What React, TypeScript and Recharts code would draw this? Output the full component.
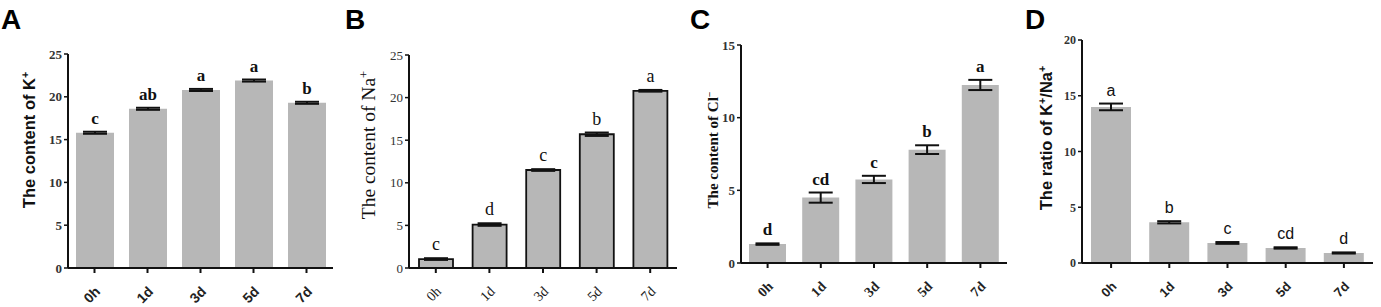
import React from "react";
import { BarChart, Bar, XAxis, YAxis, ErrorBar, LabelList } from "recharts";

const times = ["0h", "1d", "3d", "5d", "7d"];

const kContent = [15.8, 18.6, 20.8, 21.9, 19.3];
const kErr = [0.12, 0.12, 0.12, 0.12, 0.12];
const kLetters = ["c", "ab", "a", "a", "b"];

const naContent = [1.05, 5.1, 11.5, 15.7, 20.8];
const naErr = [0.1, 0.15, 0.1, 0.2, 0.1];
const naLetters = ["c", "d", "c", "b", "a"];

const clContent = [1.3, 4.5, 5.75, 7.8, 12.25];
const clErr = [0.05, 0.35, 0.25, 0.3, 0.35];
const clLetters = ["d", "cd", "c", "b", "a"];

const ratio = [14.0, 3.65, 1.8, 1.35, 0.9];
const ratioErr = [0.3, 0.1, 0.08, 0.06, 0.05];
const ratioLetters = ["a", "b", "c", "cd", "d"];

const ticks25 = [0, 5, 10, 15, 20, 25];
const ticks15 = [0, 5, 10, 15];
const ticks20 = [0, 5, 10, 15, 20];

const SANS = "'Liberation Sans', Arial, sans-serif";
const SERIF = "'Liberation Serif', 'Times New Roman', serif";

type Font = { family: string; weight: number; size: number };

type PanelProps = {
  tag: string;
  left: number;
  width: number;
  plotLeft: number;
  plotRight: number;
  plotTop: number;
  plotBottom: number;
  max: number;
  ticks: number[];
  values: number[];
  errors: number[];
  letters: string[];
  label: React.ReactNode;
  labelX: number;
  labelY: number;
  labelFont: Font;
  letterFont: Font;
  tickFont: Font;
  xTickFont: Font;
  barStroke?: string;
  barSize: number;
};

function Panel(p: PanelProps) {
  const data = times.map((t, i) => ({ time: t, value: p.values[i], err: p.errors[i], letter: p.letters[i] }));
  const H = 307;

  const renderLetter = (props: any) => {
    const { x, y, width, height, index } = props;
    const d = data[index];
    if (!d) return null;
    const pxPerUnit = height / d.value;
    const top = y - d.err * pxPerUnit;
    return (
      <text
        x={x + width / 2}
        y={top - 8}
        textAnchor="middle"
        fontFamily={p.letterFont.family}
        fontWeight={p.letterFont.weight}
        fontSize={p.letterFont.size}
        fill="#111"
      >
        {d.letter}
      </text>
    );
  };

  const XTick = (props: any) => {
    const { x, y, payload } = props;
    return (
      <g transform={`translate(${x + 3},${y + 14}) rotate(-45)`}>
        <text
          x={0}
          y={0}
          textAnchor="end"
          dominantBaseline="central"
          fontFamily={p.xTickFont.family}
          fontWeight={p.xTickFont.weight}
          fontSize={p.xTickFont.size}
          fill="#222"
        >
          {payload.value}
        </text>
      </g>
    );
  };

  return (
    <div style={{ position: "absolute", left: p.left, top: 0, width: p.width, height: H }}>
      <BarChart
        width={p.width}
        height={H}
        data={data}
        margin={{ top: p.plotTop, right: p.width - p.plotRight, bottom: 0, left: 0 }}
      >
        <XAxis
          dataKey="time"
          height={H - p.plotBottom}
          stroke="#111"
          strokeWidth={2}
          tickSize={5}
          tickLine={{ stroke: "#111", strokeWidth: 2 }}
          tick={<XTick />}
          interval={0}
        />
        <YAxis
          width={p.plotLeft}
          domain={[0, p.max]}
          ticks={p.ticks}
          allowDataOverflow
          stroke="#111"
          strokeWidth={2}
          tickSize={4}
          tickLine={{ stroke: "#111", strokeWidth: 1.5 }}
          tick={{
            fontFamily: p.tickFont.family,
            fontWeight: p.tickFont.weight,
            fontSize: p.tickFont.size,
            fill: "#333",
          }}
        />
        <Bar
          dataKey="value"
          fill="#b7b7b7"
          stroke={p.barStroke ?? "none"}
          strokeWidth={p.barStroke ? 1.8 : 0}
          barSize={p.barSize}
          isAnimationActive={false}
        >
          <ErrorBar dataKey="err" width={12} stroke="#111" strokeWidth={2} direction="y" />
          <LabelList dataKey="letter" content={renderLetter} />
        </Bar>
      </BarChart>
      <svg
        width={p.width}
        height={H}
        style={{ position: "absolute", left: 0, top: 0, pointerEvents: "none" }}
      >
        <text x={p.tag === "A" ? 1 : 0} y={29} fontFamily={SANS} fontWeight={700} fontSize={28} fill="#000">
          {p.tag}
        </text>
        <text
          transform={`translate(${p.labelX},${p.labelY}) rotate(-90)`}
          textAnchor="middle"
          fontFamily={p.labelFont.family}
          fontWeight={p.labelFont.weight}
          fontSize={p.labelFont.size}
          fill="#111"
        >
          {p.label}
        </text>
      </svg>
    </div>
  );
}

const sup = (s: string) => (
  <tspan baselineShift="super" fontSize="65%">
    {s}
  </tspan>
);

export default function App() {
  return (
    <div style={{ position: "absolute", left: 0, top: 0, width: 1381, height: 307, background: "#fff" }}>
      <Panel
        tag="A"
        left={0}
        width={345}
        plotLeft={68}
        plotRight={333}
        plotTop={54}
        plotBottom={268}
        max={25}
        ticks={ticks25}
        values={kContent}
        errors={kErr}
        letters={kLetters}
        label={<>The content of K{sup("+")}</>}
        labelX={35}
        labelY={140}
        labelFont={{ family: SANS, weight: 700, size: 16.5 }}
        letterFont={{ family: SERIF, weight: 700, size: 17 }}
        tickFont={{ family: SERIF, weight: 700, size: 13 }}
        xTickFont={{ family: SANS, weight: 700, size: 14 }}
        barSize={38}
      />
      <Panel
        tag="B"
        left={345}
        width={345}
        plotLeft={64}
        plotRight={332}
        plotTop={55}
        plotBottom={268}
        max={25}
        ticks={ticks25}
        values={naContent}
        errors={naErr}
        letters={naLetters}
        label={<>The content of Na{sup("+")}</>}
        labelX={30}
        labelY={145}
        labelFont={{ family: SERIF, weight: 400, size: 19.5 }}
        letterFont={{ family: SERIF, weight: 400, size: 18 }}
        tickFont={{ family: SERIF, weight: 400, size: 13 }}
        xTickFont={{ family: SERIF, weight: 400, size: 14 }}
        barStroke="#111"
        barSize={34}
      />
      <Panel
        tag="C"
        left={690}
        width={335}
        plotLeft={51}
        plotRight={317}
        plotTop={45}
        plotBottom={263}
        max={15}
        ticks={ticks15}
        values={clContent}
        errors={clErr}
        letters={clLetters}
        label={<>The content of Cl{sup("−")}</>}
        labelX={28}
        labelY={150}
        labelFont={{ family: SERIF, weight: 700, size: 15 }}
        letterFont={{ family: SERIF, weight: 700, size: 17 }}
        tickFont={{ family: SERIF, weight: 700, size: 13 }}
        xTickFont={{ family: SERIF, weight: 700, size: 14 }}
        barSize={37}
      />
      <Panel
        tag="D"
        left={1025}
        width={356}
        plotLeft={57}
        plotRight={348}
        plotTop={40}
        plotBottom={263}
        max={20}
        ticks={ticks20}
        values={ratio}
        errors={ratioErr}
        letters={ratioLetters}
        label={<>The ratio of K{sup("+")}/Na{sup("+")}</>}
        labelX={27}
        labelY={138}
        labelFont={{ family: SANS, weight: 700, size: 16.5 }}
        letterFont={{ family: SANS, weight: 400, size: 16 }}
        tickFont={{ family: SERIF, weight: 700, size: 12 }}
        xTickFont={{ family: SANS, weight: 700, size: 13 }}
        barSize={40}
      />
    </div>
  );
}
